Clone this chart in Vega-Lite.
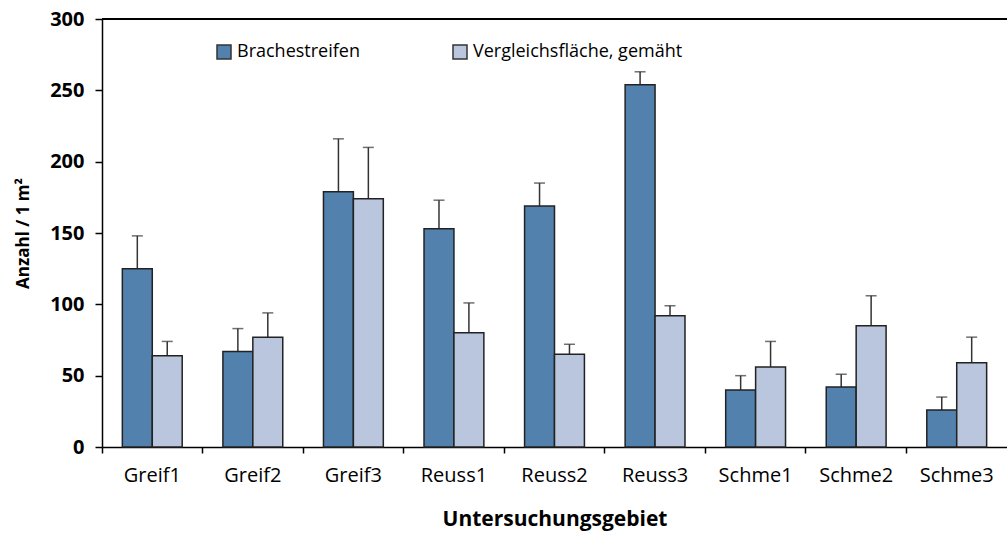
{
  "$schema": "https://vega.github.io/schema/vega-lite/v6.json",
  "autosize": "none",
  "width": 905,
  "height": 428,
  "padding": {"left": 102, "top": 19, "right": 0, "bottom": 86},
  "config": {"view": {"stroke": null}, "font": "Open Sans"},
  "data": {"values": [
    {"site": "Greif1", "group": "Brachestreifen", "value": 125, "err": 148},
    {"site": "Greif1", "group": "Vergleichsfläche, gemäht", "value": 64, "err": 74},
    {"site": "Greif2", "group": "Brachestreifen", "value": 67, "err": 83},
    {"site": "Greif2", "group": "Vergleichsfläche, gemäht", "value": 77, "err": 94},
    {"site": "Greif3", "group": "Brachestreifen", "value": 179, "err": 216},
    {"site": "Greif3", "group": "Vergleichsfläche, gemäht", "value": 174, "err": 210},
    {"site": "Reuss1", "group": "Brachestreifen", "value": 153, "err": 173},
    {"site": "Reuss1", "group": "Vergleichsfläche, gemäht", "value": 80, "err": 101},
    {"site": "Reuss2", "group": "Brachestreifen", "value": 169, "err": 185},
    {"site": "Reuss2", "group": "Vergleichsfläche, gemäht", "value": 65, "err": 72},
    {"site": "Reuss3", "group": "Brachestreifen", "value": 254, "err": 263},
    {"site": "Reuss3", "group": "Vergleichsfläche, gemäht", "value": 92, "err": 99},
    {"site": "Schme1", "group": "Brachestreifen", "value": 40, "err": 50},
    {"site": "Schme1", "group": "Vergleichsfläche, gemäht", "value": 56, "err": 74},
    {"site": "Schme2", "group": "Brachestreifen", "value": 42, "err": 51},
    {"site": "Schme2", "group": "Vergleichsfläche, gemäht", "value": 85, "err": 106},
    {"site": "Schme3", "group": "Brachestreifen", "value": 26, "err": 35},
    {"site": "Schme3", "group": "Vergleichsfläche, gemäht", "value": 59, "err": 77}
  ]},
  "layer": [
    {
      "encoding": {
        "x": {
          "field": "site", "type": "nominal", "sort": null,
          "scale": {"paddingInner": 0, "paddingOuter": 0},
          "axis": {
            "title": "Untersuchungsgebiet", "titleFontSize": 21, "titleFontWeight": "bold",
            "titleColor": "#000", "titlePadding": 23,
            "labelAngle": 0, "labelFontSize": 20, "labelColor": "#000", "labelPadding": 12,
            "bandPosition": 0, "tickSize": 6, "tickColor": "#000", "tickWidth": 1.5, "domainColor": "#000", "domainWidth": 1.5, "grid": false
          }
        },
        "xOffset": {"field": "group", "type": "nominal", "scale": {"paddingInner": 0, "paddingOuter": 0.68}}
      },
      "layer": [
        {
          "mark": {"type": "rule", "stroke": "#333", "strokeWidth": 1.5},
          "encoding": {"y": {"field": "value", "type": "quantitative"}, "y2": {"field": "err"}}
        },
        {
          "mark": {"type": "tick", "color": "#333", "size": 11, "thickness": 1.5},
          "encoding": {"y": {"field": "err", "type": "quantitative"}}
        },
        {
          "mark": {"type": "bar", "stroke": "#222", "strokeWidth": 1.5},
          "encoding": {
            "y": {
              "field": "value", "type": "quantitative",
              "scale": {"domain": [0, 300], "nice": false},
              "axis": {
                "title": "Anzahl / 1 m²", "titleFontSize": 17, "titleFontWeight": "bold", "titleColor": "#000", "titlePadding": 17,
                "values": [0, 50, 100, 150, 200, 250, 300],
                "labelFontSize": 20, "labelFontWeight": "bold", "labelColor": "#000", "labelPadding": 11,
                "tickSize": 7, "tickColor": "#000", "tickWidth": 1.5, "domainColor": "#000", "domainWidth": 1.5, "grid": false
              }
            },
            "color": {
              "field": "group", "type": "nominal",
              "scale": {"domain": ["Brachestreifen", "Vergleichsfläche, gemäht"], "range": ["#5281ad", "#b9c6dd"]},
              "legend": {
                "title": null, "orient": "none", "legendX": 113, "legendY": 24, "direction": "horizontal",
                "symbolType": "square", "symbolSize": 196, "symbolStrokeColor": "#333", "symbolStrokeWidth": 1.5,
                "labelFontSize": 18, "labelColor": "#000", "labelOffset": 4, "labelLimit": 400, "columnPadding": 90
              }
            }
          }
        }
      ]
    },
    {
      "mark": {"type": "rule", "stroke": "#000", "strokeWidth": 1.5},
      "encoding": {"y": {"datum": 300, "type": "quantitative"}}
    }
  ]
}
